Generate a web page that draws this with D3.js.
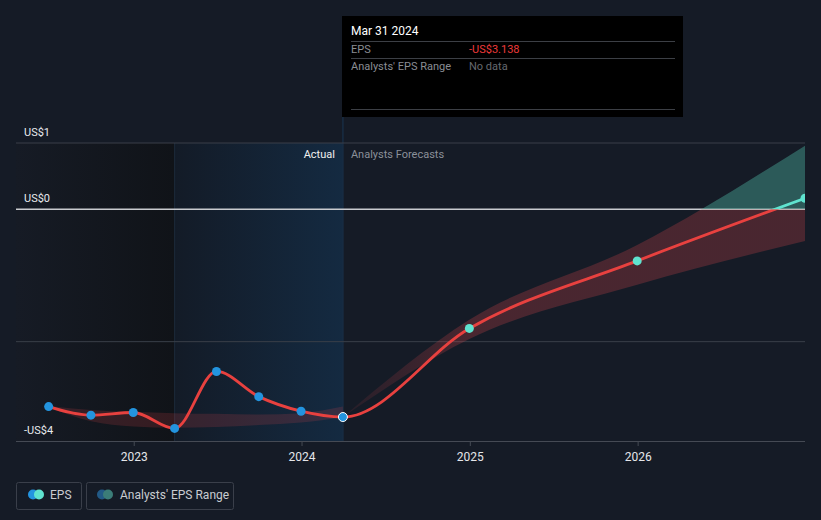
<!DOCTYPE html>
<html><head><meta charset="utf-8">
<script src="https://cdn.jsdelivr.net/npm/d3@7"></script>
<style>
html,body{margin:0;padding:0;background:#151b26;}
svg{display:block;font-family:Roboto,"Noto Sans",sans-serif;}
</style></head><body>
<script>
// ---- data ----
const histDates = ["2022-06-30","2022-09-30","2022-12-31","2023-03-31","2023-06-30","2023-09-30","2023-12-31","2024-03-31"];
const histEPS   = [-2.98, -3.11, -3.07, -3.31, -2.45, -2.83, -3.05, -3.138];
const histLow   = [-2.99, -3.20, -3.28, -3.30, -3.29, -3.26, -3.22, -3.14];
const histHigh  = [-2.97, -3.03, -3.06, -3.08, -3.09, -3.10, -3.08, -2.98];
const fcDates   = ["2024-03-31","2024-12-31","2025-12-31","2026-12-31"];
const fcEPS     = [-3.138, -1.80, -0.78, 0.165];
const fcLow     = [-3.138, -1.96, -1.14, -0.48];
const fcHigh    = [-3.138, -1.67, -0.54, 0.96];
const yTickValues = [1, 0, -3.5];
const yTickLabels = ["US$1", "US$0", "-US$4"];
const xTickYears  = [2023, 2024, 2025, 2026];

const W = 821, H = 520;
const parse = d3.timeParse("%Y-%m-%d");
const svg = d3.select("body").append("svg").attr("width", W).attr("height", H);

const x = d3.scaleTime().domain([new Date(2022,3,20), new Date(2026,11,31)]).range([16, 805]);
const y = d3.scaleLinear().domain([-3.5, 1]).range([441, 143]);

const xStart = x.range()[0];
const xYearAgo = x(parse("2023-03-31"));
const xNow = x(parse("2024-03-31"));
const xFc1 = x(parse("2024-12-31"));

const defs = svg.append("defs");
const g1 = defs.append("linearGradient").attr("id","gDark").attr("x1",0).attr("x2",1).attr("y1",0).attr("y2",0);
g1.append("stop").attr("offset",0).attr("stop-color","#161b25");
g1.append("stop").attr("offset",1).attr("stop-color","#101318");
const g2 = defs.append("linearGradient").attr("id","gBlue").attr("x1",0).attr("x2",1).attr("y1",0).attr("y2",0);
g2.append("stop").attr("offset",0).attr("stop-color","#131b27");
g2.append("stop").attr("offset",1).attr("stop-color","#142a41");
const g3 = defs.append("linearGradient").attr("id","gBand").attr("gradientUnits","userSpaceOnUse")
  .attr("x1",xNow).attr("x2",xFc1).attr("y1",0).attr("y2",0);
g3.append("stop").attr("offset",0).attr("stop-color","#e5484d").attr("stop-opacity",0.08);
g3.append("stop").attr("offset",1).attr("stop-color","#e5484d").attr("stop-opacity",0.25);
defs.append("clipPath").attr("id","cPlot").append("rect").attr("x",16).attr("y",0).attr("width",789).attr("height",441);
defs.append("clipPath").attr("id","cNeg").append("rect").attr("x",0).attr("y",y(0)).attr("width",W).attr("height",H);
defs.append("clipPath").attr("id","cPos").append("rect").attr("x",0).attr("y",0).attr("width",W).attr("height",y(0));

// shaded regions
svg.append("rect").attr("x",xStart).attr("y",y(1)).attr("width",xYearAgo-xStart).attr("height",y(-3.5)-y(1)).attr("fill","url(#gDark)");
svg.append("rect").attr("x",xYearAgo).attr("y",y(1)).attr("width",xNow-xYearAgo).attr("height",y(-3.5)-y(1)).attr("fill","url(#gBlue)");
svg.append("line").attr("x1",xYearAgo).attr("x2",xYearAgo).attr("y1",y(1)).attr("y2",y(-3.5)).attr("stroke","#1c2a3a").attr("stroke-width",1);
svg.append("line").attr("x1",xNow).attr("x2",xNow).attr("y1",117).attr("y2",y(-3.5)).attr("stroke","#172d43").attr("stroke-width",1.5);

// gridlines
[1, -2].forEach(v => svg.append("line").attr("x1",16).attr("x2",805).attr("y1",y(v)).attr("y2",y(v)).attr("stroke","#3a3f49").attr("stroke-width",1));
svg.append("line").attr("x1",16).attr("x2",805).attr("y1",y(0)).attr("y2",y(0)).attr("stroke","#c9cbcf").attr("stroke-width",1.5);

// x axis
const xAxis = d3.axisBottom(x).tickValues(xTickYears.map(yr => new Date(yr,0,1))).tickFormat(d3.timeFormat("%Y")).tickSize(5).tickPadding(6);
const ax = svg.append("g").attr("transform",`translate(0,${y(-3.5)})`).call(xAxis);
ax.select(".domain").attr("stroke","#454a54").attr("d","M16,0.5H805");
ax.selectAll(".tick line").attr("stroke","#454a54");
ax.selectAll(".tick text").attr("fill","#e4e6ea").attr("font-size",12).attr("font-family","Roboto");

// y labels
yTickValues.forEach((v,i) => svg.append("text").attr("x",24).attr("y",y(v)-7).attr("fill","#e8eaee").attr("font-size",11).text(yTickLabels[i]));

// labels
svg.append("text").attr("x",xNow-8).attr("y",158).attr("text-anchor","end").attr("fill","#f0f0f0").attr("font-size",11).text("Actual");
svg.append("text").attr("x",xNow+8).attr("y",158).attr("fill","#8b9099").attr("font-size",11).text("Analysts Forecasts");

const plot = svg.append("g").attr("clip-path","url(#cPlot)");
const curve = d3.curveMonotoneX;

// historical range band
const hist = histDates.map((d,i)=>({d:parse(d), v:histEPS[i], lo:histLow[i], hi:histHigh[i]}));
const fc = fcDates.map((d,i)=>({d:parse(d), v:fcEPS[i], lo:fcLow[i], hi:fcHigh[i]}));
const area = d3.area().x(d=>x(d.d)).y0(d=>y(d.lo)).y1(d=>y(d.hi)).curve(curve);
plot.append("path").datum(hist).attr("d",area).attr("fill","#e5484d").attr("fill-opacity",0.17);

// forecast band
plot.append("g").attr("clip-path","url(#cNeg)").append("path").datum(fc).attr("d",area).attr("fill","url(#gBand)");
plot.append("g").attr("clip-path","url(#cPos)").append("path").datum(fc).attr("d",area).attr("fill","#4aa89a").attr("fill-opacity",0.45);

// EPS line
const all = hist.concat(fc.slice(1));
const line = d3.line().x(d=>x(d.d)).y(d=>y(d.v)).curve(curve);
plot.append("g").attr("clip-path","url(#cNeg)").append("path").datum(all).attr("d",line).attr("fill","none").attr("stroke","#e8413f").attr("stroke-width",2.8);
plot.append("g").attr("clip-path","url(#cPos)").append("path").datum(all).attr("d",line).attr("fill","none").attr("stroke","#5fe3cf").attr("stroke-width",2.8);

// points
plot.selectAll(".hp").data(hist.slice(0,-1)).enter().append("circle").attr("cx",d=>x(d.d)).attr("cy",d=>y(d.v)).attr("r",4.5).attr("fill","#2394df");
plot.append("circle").attr("cx",x(hist[hist.length-1].d)).attr("cy",y(hist[hist.length-1].v)).attr("r",4.5).attr("fill","#2394df").attr("stroke","#ffffff").attr("stroke-width",1);
plot.selectAll(".fp").data(fc.slice(1)).enter().append("circle").attr("cx",d=>x(d.d)).attr("cy",d=>y(d.v)).attr("r",4.5).attr("fill","#5fe3cf");

// tooltip
const tt = svg.append("g");
tt.append("rect").attr("x",342).attr("y",16).attr("width",341).attr("height",101).attr("fill","#000");
tt.append("text").attr("x",351).attr("y",35).attr("fill","#ffffff").attr("font-size",12).text("Mar 31 2024");
[41,58,109].forEach(yy=>tt.append("line").attr("x1",351).attr("x2",675).attr("y1",yy+0.5).attr("y2",yy+0.5).attr("stroke","#3c3f45"));
tt.append("text").attr("x",351).attr("y",53).attr("fill","#8a8d93").attr("font-size",11).text("EPS");
tt.append("text").attr("x",469).attr("y",53).attr("fill","#ee3a3a").attr("font-size",11).text("-US$3.138");
tt.append("text").attr("x",351).attr("y",70).attr("fill","#8a8d93").attr("font-size",11).text("Analysts' EPS Range");
tt.append("text").attr("x",469).attr("y",70).attr("fill","#66696f").attr("font-size",11).text("No data");

// legend
const lg = svg.append("g");
lg.append("rect").attr("x",16.5).attr("y",482.5).attr("width",65).attr("height",27).attr("rx",2).attr("fill","none").attr("stroke","#3a3f4a");
lg.append("circle").attr("cx",33).attr("cy",494.5).attr("r",5).attr("fill","#2394df");
lg.append("circle").attr("cx",39).attr("cy",494.5).attr("r",5).attr("fill","#5fe3cf");
lg.append("text").attr("x",50).attr("y",499).attr("fill","#c9ccd1").attr("font-size",12).text("EPS");
lg.append("rect").attr("x",86.5).attr("y",482.5).attr("width",147).attr("height",27).attr("rx",2).attr("fill","none").attr("stroke","#3a3f4a");
lg.append("circle").attr("cx",102).attr("cy",494.5).attr("r",5).attr("fill","#225a86");
lg.append("circle").attr("cx",108).attr("cy",494.5).attr("r",5).attr("fill","#3b7d78");
lg.append("text").attr("x",120).attr("y",499).attr("fill","#c9ccd1").attr("font-size",12).text("Analysts' EPS Range");
</script>
</body></html>
